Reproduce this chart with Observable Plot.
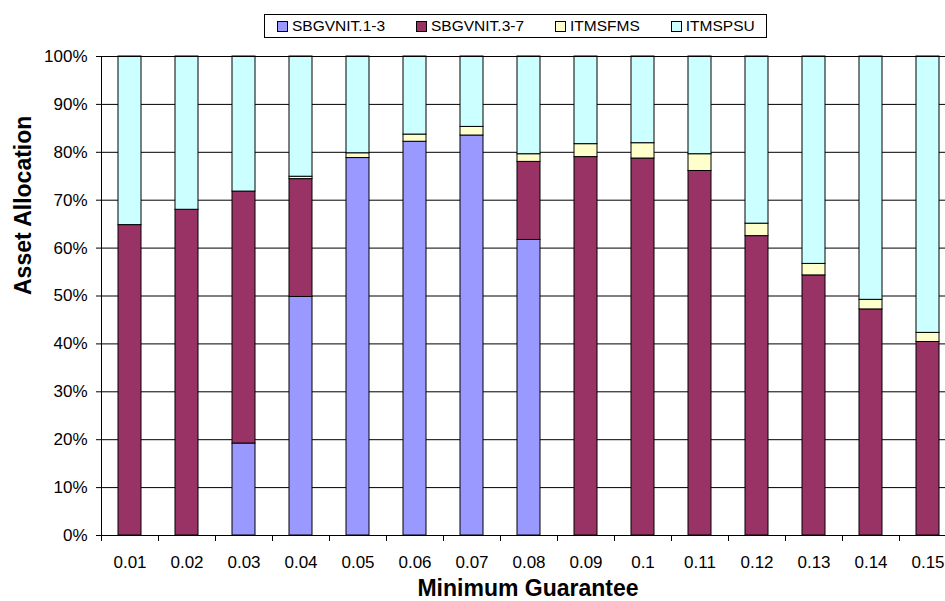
<!DOCTYPE html>
<html>
<head>
<meta charset="utf-8">
<script src="https://cdn.jsdelivr.net/npm/d3@7"></script>
<script src="https://cdn.jsdelivr.net/npm/@observablehq/plot@0.6"></script>
<style>
  html, body { margin: 0; padding: 0; background: #fff; overflow: hidden; }
  #wrap { position: relative; width: 945px; height: 601px; overflow: hidden; font-family: "Liberation Sans", Arial, sans-serif; }
  #legend {
    position: absolute; left: 264px; top: 14px; width: 501px; height: 22px;
    border: 1px solid #000; background: #fff;
    display: flex; align-items: center; box-sizing: content-box;
    font-size: 15.5px; color: #000; white-space: nowrap;
  }
  #legend .item { display: flex; align-items: center; }
  #legend .sw { width: 9px; height: 9px; border: 1px solid #000; margin-right: 4px; }
  #chart { position: absolute; left: 0; top: 0; width: 956px; }
</style>
</head>
<body>
<div id="wrap">
  <div id="chart"></div>
  <div id="legend"></div>
</div>
<script>
// Minimum guarantee levels (categories)
const guarantees = ["0.01", "0.02", "0.03", "0.04", "0.05", "0.06", "0.07", "0.08",
                    "0.09", "0.1", "0.11", "0.12", "0.13", "0.14", "0.15"];

// Asset classes, bottom to top of each stack
const assets = ["SBGVNIT.1-3", "SBGVNIT.3-7", "ITMSFMS", "ITMSPSU"];
const assetColors = ["#9999FF", "#993366", "#FFFFCC", "#CCFFFF"];

// Allocation (%) for each asset class at each guarantee level
const sbgvnit13 = [0, 0, 19.2, 49.8, 78.8, 82.2, 83.5, 61.7, 0, 0, 0, 0, 0, 0, 0];
const sbgvnit37 = [64.8, 68.0, 52.6, 24.6, 0, 0, 0, 16.3, 79.0, 78.7, 76.1, 62.5, 54.3, 47.2, 40.4];
const itmsfms   = [0, 0, 0, 0.5, 1.0, 1.5, 1.8, 1.6, 2.7, 3.2, 3.5, 2.6, 2.4, 2.0, 1.9];
const itmspsu   = [35.2, 32.0, 28.2, 25.1, 20.2, 16.3, 14.7, 20.4, 18.3, 18.1, 20.4, 34.9, 43.3, 50.8, 57.7];

// Y axis ticks (percent)
const yTicks = [0, 10, 20, 30, 40, 50, 60, 70, 80, 90, 100];

const seriesValues = [sbgvnit13, sbgvnit37, itmsfms, itmspsu];
const rows = [];
guarantees.forEach((g, i) => {
  assets.forEach((a, j) => rows.push({guarantee: g, asset: a, value: seriesValues[j][i]}));
});

const font = '"Liberation Sans", Arial, sans-serif';

const chart = Plot.plot({
  width: 956,
  height: 601,
  marginTop: 56,
  marginBottom: 66,
  marginLeft: 101,
  marginRight: 0,
  style: {fontFamily: font, fontSize: "17px", color: "#000", background: "#fff", maxWidth: "none", overflow: "visible"},
  x: {domain: guarantees, paddingInner: 0.59, paddingOuter: 0.295, label: null},
  y: {domain: [0, 100], label: null},
  color: {domain: assets, range: assetColors},
  marks: [
    Plot.gridY(yTicks, {stroke: "#000", strokeOpacity: 1, strokeWidth: 1}),
    Plot.barY(rows, Plot.stackY({
      x: "guarantee",
      y: "value",
      z: "asset",
      fill: "asset",
      stroke: "#000",
      strokeWidth: 1
    })),
    Plot.frame({stroke: "#000", strokeWidth: 1}),
    Plot.axisY(yTicks, {tickSize: 5, tickPadding: 9, tickFormat: d => d + "%", fontSize: 17, label: null}),
    Plot.axisX({tickSize: 0, tickPadding: 20, fontSize: 17, label: null}),
    Plot.axisX({text: null, tickSize: 6, dx: -28.5, label: null}),
    Plot.text(["Minimum Guarantee"], {frameAnchor: "bottom", dy: 60, dx: -1, fontSize: 23, fontWeight: "bold"}),
    Plot.text(["Asset Allocation"], {frameAnchor: "left", dx: -78, dy: -1, rotate: -90, fontSize: 23, fontWeight: "bold"})
  ]
});
document.getElementById("chart").appendChild(chart);

// Legend
const legend = d3.select("#legend");
const gaps = [12, 31, 31, 31];
assets.forEach((a, i) => {
  const item = legend.append("div").attr("class", "item").style("margin-left", gaps[i] + "px");
  item.append("div").attr("class", "sw").style("background", assetColors[i]);
  item.append("span").text(a);
});
</script>
</body>
</html>
